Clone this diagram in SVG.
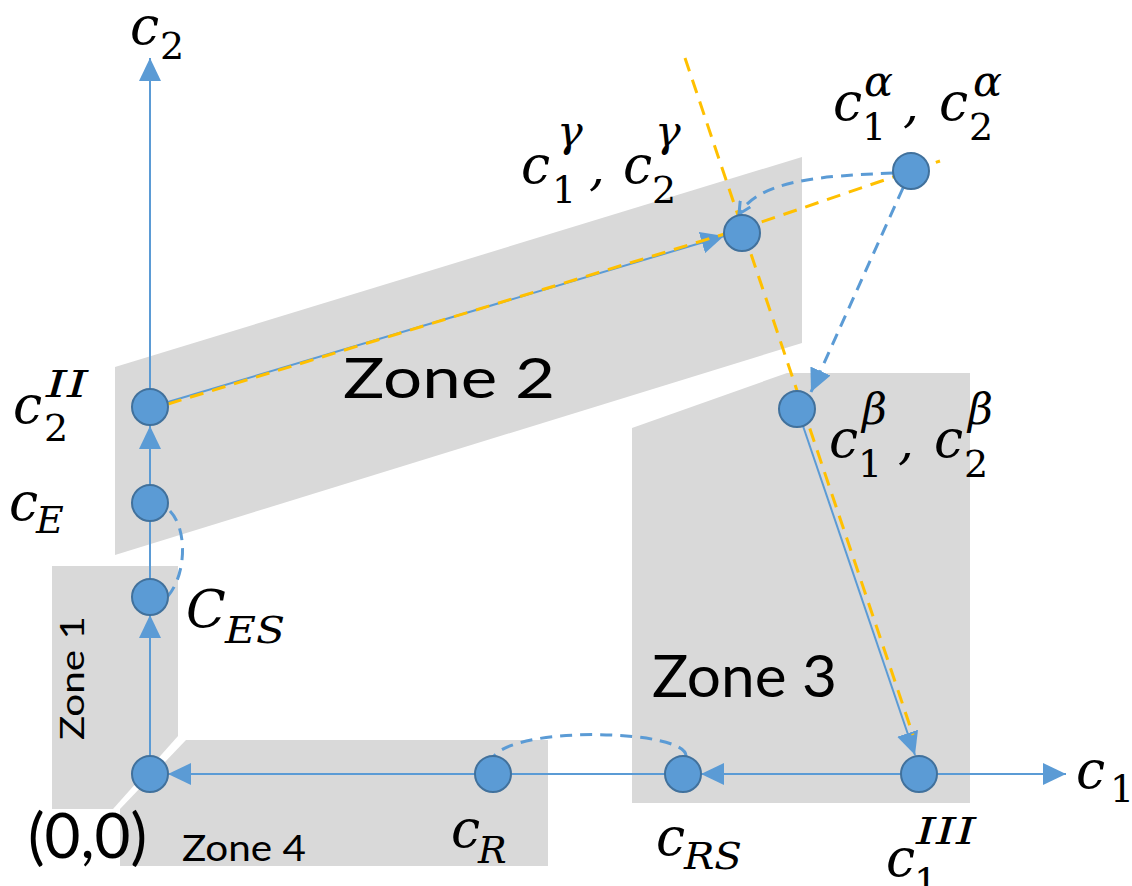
<svg xmlns="http://www.w3.org/2000/svg" width="1132" height="886" viewBox="0 0 1132 886">
<style>
.zone{fill:#d9d9d9}
.zl{font-family:Lato,"Open Sans",sans-serif;fill:#000}
.sol{stroke:#5b9bd5;stroke-width:2;fill:none}
.dsh{stroke:#5b9bd5;stroke-width:3;fill:none;stroke-dasharray:12 8}
.org{stroke:#ffc000;stroke-width:3;fill:none;stroke-dasharray:14 9}
.nd{fill:#5b9bd5;stroke:#41719c;stroke-width:2}
.mc{font-family:"DejaVu Serif",serif;font-style:italic;font-size:52px;fill:#000}
.sd{font-family:"DejaVu Serif",serif;font-style:normal;font-size:38px;fill:#000}
.si{font-family:"DejaVu Serif",serif;font-style:italic;font-size:38px;fill:#000}
.gr{font-family:"DejaVu Serif",serif;font-style:italic;font-size:43px;fill:#000}
.cm{font-family:"DejaVu Serif",serif;font-style:italic;font-size:50px;fill:#000}
</style>
<defs>
<marker id="ah" markerUnits="userSpaceOnUse" markerWidth="24" markerHeight="22" refX="23" refY="11" orient="auto"><path d="M0,0 L23,11 L0,22 z" fill="#5b9bd5"/></marker>
<marker id="ahs" markerUnits="userSpaceOnUse" markerWidth="14" markerHeight="14" refX="12" refY="7" orient="auto"><path d="M0,1 L12,7 L0,13" fill="none" stroke="#5b9bd5" stroke-width="3"/></marker>
</defs>
<rect width="1132" height="886" fill="#fff"/>

<g id="zones">
<polygon class="zone" points="52,566 178,566 178,736 113,809 52,809"/>
<polygon class="zone" points="115,367 802,157 802,343 115,555"/>
<polygon class="zone" points="632,428 787,373 970,373 970,803 632,803"/>
<polygon class="zone" points="186,740 548,740 548,866 120,866 120,809"/>
<text class="zl" x="343" y="398" font-size="56" textLength="212" lengthAdjust="spacingAndGlyphs">Zone 2</text>
<text class="zl" x="652" y="697" font-size="59" textLength="185" lengthAdjust="spacingAndGlyphs">Zone 3</text>
<text class="zl" x="182" y="861" font-size="36" textLength="124" lengthAdjust="spacingAndGlyphs">Zone 4</text>
<text class="zl" transform="translate(84,740) rotate(-90)" x="0" y="0" font-size="33" textLength="124" lengthAdjust="spacingAndGlyphs">Zone 1</text>
</g>

<g id="connectors">
<line class="sol" x1="150" y1="756" x2="150" y2="615" marker-end="url(#ah)"/>
<line class="sol" x1="150" y1="579" x2="150" y2="521"/>
<line class="sol" x1="150" y1="485" x2="150" y2="426" marker-end="url(#ah)"/>
<line class="sol" x1="150" y1="389" x2="150" y2="58" marker-end="url(#ah)"/>
<line class="sol" x1="901" y1="774" x2="701" y2="774" marker-end="url(#ah)"/>
<line class="sol" x1="665" y1="774" x2="511" y2="774"/>
<line class="sol" x1="475" y1="774" x2="168" y2="774" marker-end="url(#ah)"/>
<line class="sol" x1="937" y1="774" x2="1066" y2="774" marker-end="url(#ah)"/>
<line class="sol" x1="168" y1="402" x2="724" y2="236" marker-end="url(#ah)"/>
<line class="sol" x1="803" y1="426" x2="915" y2="755" marker-end="url(#ah)"/>
<polyline class="org" points="168,404 741,229 940,161"/>
<line class="org" x1="685" y1="58" x2="913" y2="735"/>
<path class="dsh" d="M893,173 C820,176 760,180 739,214" marker-end="url(#ahs)"/>
<line class="dsh" x1="903" y1="188" x2="811" y2="392" marker-end="url(#ah)"/>
<path class="dsh" d="M170,511 C188,530 186,575 168,596"/>
<path class="dsh" d="M686,756 C686,730 520,725 494,756"/>
</g>

<g id="axis-c2">
<text class="mc" x="130" y="44">c</text><text class="sd" x="160" y="59">2</text>
</g>
<g id="axis-c1">
<text class="mc" x="1076" y="788">c</text><text class="sd" x="1110" y="802">1</text>
</g>

<g id="node-origin">
<circle class="nd" cx="150" cy="774" r="18"/>
<text class="zl" x="28" y="858" font-size="62">(0,0)</text>
</g>
<g id="node-cR">
<circle class="nd" cx="493" cy="774" r="18"/>
<text class="mc" x="451" y="847">c</text><text class="si" x="478" y="863">R</text>
</g>
<g id="node-cRS">
<circle class="nd" cx="683" cy="774" r="18"/>
<text class="mc" x="656" y="855">c</text><text class="si" x="684" y="869" textLength="58" lengthAdjust="spacingAndGlyphs">RS</text>
</g>
<g id="node-c1III">
<circle class="nd" cx="919" cy="774" r="18"/>
<text class="mc" x="886" y="876">c</text><text class="sd" x="914" y="895">1</text><text class="si" x="916" y="844" textLength="60" lengthAdjust="spacingAndGlyphs">III</text>
</g>
<g id="node-cES">
<circle class="nd" cx="150" cy="597" r="18"/>
<text class="mc" x="186" y="627" font-size="57">C</text><text class="si" x="225" y="643" font-size="45" textLength="60" lengthAdjust="spacingAndGlyphs">ES</text>
</g>
<g id="node-cE">
<circle class="nd" cx="150" cy="503" r="18"/>
<text class="mc" x="9" y="520">c</text><text class="si" x="36" y="533">E</text>
</g>
<g id="node-c2II">
<circle class="nd" cx="150" cy="407" r="18"/>
<text class="mc" x="13" y="423">c</text><text class="sd" x="44" y="441">2</text><text class="si" x="46" y="397" font-size="43" textLength="42" lengthAdjust="spacingAndGlyphs">II</text>
</g>
<g id="node-gamma">
<circle class="nd" cx="742" cy="233" r="18"/>
<text class="mc" x="521" y="183">c</text><text class="sd" x="552" y="203">1</text><text class="gr" x="557" y="146">γ</text>
<text class="cm" x="589" y="185">,</text>
<text class="mc" x="623" y="183">c</text><text class="sd" x="652" y="203">2</text><text class="gr" x="655" y="146">γ</text>
</g>
<g id="node-alpha">
<circle class="nd" cx="911" cy="171" r="18"/>
<text class="mc" x="833" y="120">c</text><text class="sd" x="862" y="140">1</text><text class="gr" x="864" y="96">α</text>
<text class="cm" x="903" y="122">,</text>
<text class="mc" x="939" y="120">c</text><text class="sd" x="969" y="140">2</text><text class="gr" x="973" y="96">α</text>
</g>
<g id="node-beta">
<circle class="nd" cx="797" cy="409" r="18"/>
<text class="mc" x="829" y="457">c</text><text class="sd" x="858" y="477">1</text><text class="gr" x="862" y="424">β</text>
<text class="cm" x="898" y="459">,</text>
<text class="mc" x="934" y="457">c</text><text class="sd" x="964" y="477">2</text><text class="gr" x="968" y="424">β</text>
</g>
</svg>
